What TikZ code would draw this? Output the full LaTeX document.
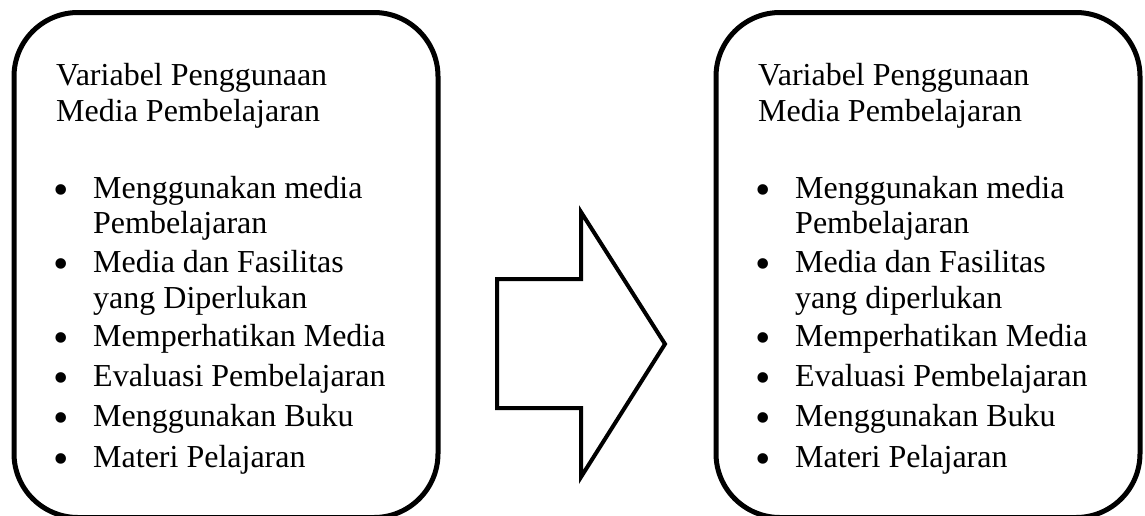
\documentclass[tikz,border=0pt]{standalone}
\usepackage{fontspec}
\setmainfont{Liberation Serif}
\begin{document}
\begin{tikzpicture}[x=1pt,y=-1pt,
  panel/.style={draw=black,line width=5pt,rounded corners=64pt,fill=white,inner sep=0pt},
  txt/.style={anchor=base west,inner sep=0pt,font=\fontsize{32}{36}\selectfont},
  bul/.style={anchor=base,inner sep=0pt,yshift=-6pt,font=\fontsize{44}{44}\selectfont}]
\useasboundingbox (0,0) rectangle (1145,515);
\fill[white] (0,0) rectangle (1145,515);
% panels
\node[panel,minimum width=424pt,minimum height=505pt] (L) at (226,265) {};
\node[panel,minimum width=424pt,minimum height=505pt] (R) at (928,265) {};
% arrow
\draw[line width=4pt,line join=miter] (497,279) -- (581,279) -- (581,212) -- (665,344) -- (581,477) -- (581,408) -- (497,408) -- cycle;
% left texts
\node[txt] (lt1) at (56,85) {Variabel Penggunaan};
\node[txt] (lt2) at (56,121) {Media Pembelajaran};
\node[bul] (lb1) at (61.5,198) {\textbullet};
\node[txt] (li1a) at (93,198) {Menggunakan media};
\node[txt] (li1b) at (93,233) {Pembelajaran};
\node[bul] (lb2) at (61.5,272) {\textbullet};
\node[txt] (li2a) at (93,272) {Media dan Fasilitas};
\node[txt] (li2b) at (93,308) {yang Diperlukan};
\node[bul] (lb3) at (61.5,346) {\textbullet};
\node[txt] (li3) at (93,346) {Memperhatikan Media};
\node[bul] (lb4) at (61.5,386) {\textbullet};
\node[txt] (li4) at (93,386) {Evaluasi Pembelajaran};
\node[bul] (lb5) at (61.5,426) {\textbullet};
\node[txt] (li5) at (93,426) {Menggunakan Buku};
\node[bul] (lb6) at (61.5,467) {\textbullet};
\node[txt] (li6) at (93,467) {Materi Pelajaran};
% right texts
\node[txt] (rt1) at (758,85) {Variabel Penggunaan};
\node[txt] (rt2) at (758,121) {Media Pembelajaran};
\node[bul] (rb1) at (763.5,198) {\textbullet};
\node[txt] (ri1a) at (795,198) {Menggunakan media};
\node[txt] (ri1b) at (795,233) {Pembelajaran};
\node[bul] (rb2) at (763.5,272) {\textbullet};
\node[txt] (ri2a) at (795,272) {Media dan Fasilitas};
\node[txt] (ri2b) at (795,308) {yang diperlukan};
\node[bul] (rb3) at (763.5,346) {\textbullet};
\node[txt] (ri3) at (795,346) {Memperhatikan Media};
\node[bul] (rb4) at (763.5,386) {\textbullet};
\node[txt] (ri4) at (795,386) {Evaluasi Pembelajaran};
\node[bul] (rb5) at (763.5,426) {\textbullet};
\node[txt] (ri5) at (795,426) {Menggunakan Buku};
\node[bul] (rb6) at (763.5,467) {\textbullet};
\node[txt] (ri6) at (795,467) {Materi Pelajaran};
\end{tikzpicture}
\end{document}
